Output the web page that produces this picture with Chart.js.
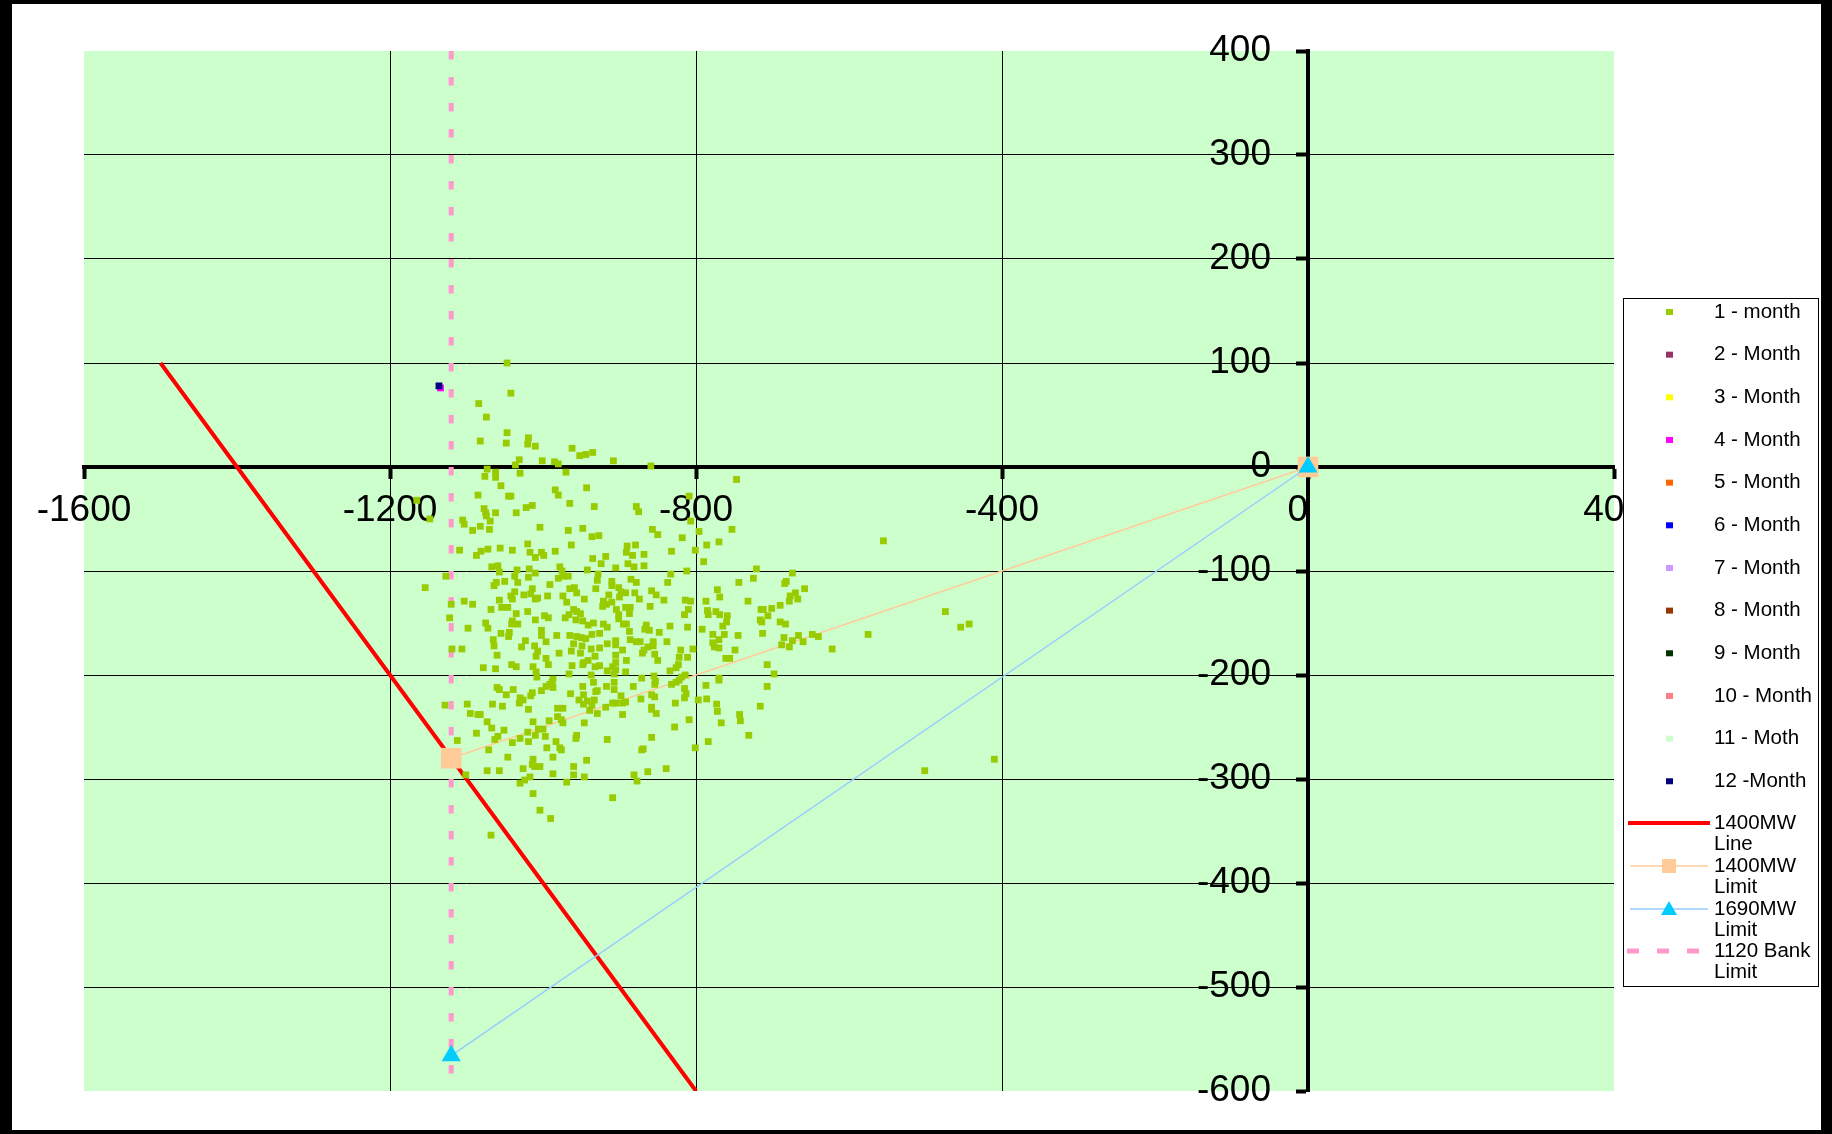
<!DOCTYPE html>
<html>
<head>
<meta charset="utf-8">
<script src="https://cdn.jsdelivr.net/npm/chart.js@4.4.1/dist/chart.umd.min.js"></script>
<style>
html,body{margin:0;padding:0;background:#000;}
canvas{display:block;}
</style>
</head>
<body>
<canvas id="chart" width="1832" height="1134"></canvas>
<script>
// axis ticks
const xTicks = [-1600,-1200,-800,-400,0,400];
const yTicks = [-600,-500,-400,-300,-200,-100,0,100,200,300,400];

// series names / colours (Excel palette)
const monthLabels = ["1 - month","2 - Month","3 - Month","4 - Month","5 - Month","6 - Month",
"7 - Month","8 - Month","9 - Month","10 - Month","11 - Moth","12 -Month"];
const monthColors = ["#99CC00","#993366","#FFFF00","#FF00FF","#FF6600","#0000FF",
"#CC99FF","#993300","#003300","#FF8080","#CCFFCC","#000080"];

// 1 - month readings [x, y]
const month1 = [
[-1047,100],[-1042,71],[-1084,61],[-1074,48],[-1047,33],[-1082,25],[-1048,23],[-1019,28],[-1020,22],[-1010,20],
[-962,18],[-952,11],[-944,12],[-935,14],[-1031,7],[-1036,2],[-1001,6],[-985,5],[-980,3],[-1073,-2],
[-1062,-5],[-1062,-10],[-1076,-9],[-1030,-6],[-970,-5],[-1055,-18],[-1085,-27],[-1045,-28],[-1042,-28],[-984,-22],
[-980,-27],[-943,-20],[-965,-35],[-933,-38],[-1022,-39],[-1014,-37],[-1077,-40],[-1075,-44],[-1062,-44],[-1035,-44],
[-1165,-32],
[-908,6],[-859,1],[-747,-12],[-809,-28],[-878,-38],[-875,-43],
[-1148,-50],[-1105,-51],[-1103,-55],[-1074,-47],[-1069,-52],[-1082,-57],[-1092,-61],[-1070,-60],[-1004,-58],[-967,-61],
[-948,-59],[-936,-67],[-927,-66],[-1020,-74],[-963,-75],[-1109,-80],[-1081,-81],[-1072,-79],[-1056,-78],[-1040,-80],
[-1087,-85],[-1017,-82],[-1002,-82],[-999,-85],[-1010,-87],[-984,-81],[-935,-88],[-918,-86],[-924,-93],
[-1067,-96],[-1059,-95],[-1057,-101],[-1034,-99],[-1037,-105],[-1018,-98],[-1010,-102],[-1019,-106],[-978,-96],[-975,-100],
[-973,-105],[-980,-107],[-967,-105],[-942,-99],[-928,-103],[-1127,-105],[-1154,-116],[-1033,-111],[-1061,-111],[-1050,-110],
[-1064,-114],[-991,-113],[-929,-109],
[-1037,-120],[-1025,-123],[-1016,-122],[-1014,-117],[-1010,-127],[-1007,-126],[-1042,-124],[-1040,-127],[-994,-124],[-974,-124],
[-965,-117],[-959,-116],[-956,-121],[-931,-117],[-969,-130],[-946,-127],[-914,-123],[-921,-129],[-1120,-132],[-1103,-129],
[-1092,-132],[-1057,-128],[-1068,-137],[-1054,-135],[-1046,-135],[-922,-134],[-917,-132],[-960,-137],
[-1020,-139],[-1035,-141],[-956,-139],[-951,-141],[-966,-142],[-998,-143],[-993,-145],[-971,-145],[-1122,-145],[-1010,-147],
[-957,-147],[-948,-148],[-1075,-150],[-1040,-148],[-1033,-151],[-1041,-151],[-934,-150],[-941,-152],[-1098,-155],[-1072,-155],
[-916,-154],[-921,-151],
[-1055,-160],[-1044,-159],[-1045,-163],[-1002,-157],[-1002,-162],[-982,-162],[-965,-162],[-956,-163],[-950,-164],[-944,-165],
[-936,-161],[-926,-160],[-1065,-166],[-1023,-167],[-996,-168],[-916,-170],[-1064,-172],[-1028,-173],[-1011,-172],[-960,-170],
[-949,-172],[-1119,-175],[-1106,-175],[-1007,-177],[-937,-175],[-926,-174],[-979,-179],[-963,-177],[-951,-179],
[-1060,-181],[-1009,-182],[-996,-184],[-932,-182],[-941,-186],[-947,-188],[-948,-190],[-1041,-190],[-1035,-192],[-1013,-192],
[-993,-190],[-962,-191],[-932,-192],[-926,-191],[-916,-196],[-1078,-193],[-1062,-194],[-1009,-197],[-1008,-202],[-987,-204],
[-966,-199],[-937,-200],
[-807,-52],[-796,-62],[-753,-60],[-857,-60],[-850,-65],[-818,-68],[-770,-72],[-786,-75],[-801,-80],[-832,-81],
[-890,-76],[-879,-75],[-891,-82],[-883,-85],[-868,-84],[-790,-91],[-889,-93],[-881,-96],[-868,-95],[-905,-97],
[-812,-100],[-833,-103],[-721,-98],[-725,-107],[-674,-102],[-684,-112],[-682,-110],[-658,-117],[-744,-111],[-837,-111],
[-885,-108],[-878,-111],[-910,-110],[-910,-114],[-901,-116],[-772,-118],[-858,-119],[-898,-120],[-892,-121],[-880,-121],
[-769,-125],[-852,-123],[-900,-125],[-670,-121],[-677,-124],[-667,-127],[-678,-129],[-874,-127],[-842,-128],[-814,-128],
[-807,-129],[-787,-129],[-732,-129],[-690,-133],[-910,-130],[-892,-135],[-886,-135],[-860,-134],[-904,-137],[-810,-137],
[-785,-138],[-774,-139],[-715,-137],[-712,-137],[-701,-136],[-901,-142],[-887,-141],[-815,-142],[-784,-142],[-769,-142],
[-759,-143],[-706,-143],[-901,-146],[-716,-147],[-714,-149],[-690,-149],[-683,-151],[-760,-149],[-895,-151],[-891,-151],
[-834,-153],[-811,-154],[-765,-153],[-865,-152],[-867,-156],[-861,-157],[-887,-158],[-848,-159],[-792,-156],[-763,-161],
[-778,-161],[-745,-162],[-713,-160],[-666,-162],[-685,-164],[-674,-167],[-660,-168],[-770,-166],[-886,-166],[-878,-168],
[-873,-168],[-856,-168],[-838,-168],[-905,-167],[-905,-171],[-688,-171],[-678,-173],[-778,-169],[-776,-173],[-770,-174],
[-856,-172],[-863,-173],[-804,-175],[-749,-176],[-896,-176],[-868,-176],[-820,-176],[-870,-179],[-854,-180],[-905,-181],
[-811,-183],[-822,-183],[-761,-184],[-756,-184],[-850,-186],[-891,-186],[-905,-188],[-823,-190],[-826,-193],[-834,-196],
[-909,-192],[-905,-195],[-892,-197],[-907,-199],[-698,-199],[-707,-190],[-814,-200],[-855,-201],[-871,-203],[-770,-203],
[-819,-202],
[-555,-71],[-474,-139],[-454,-154],[-443,-151],[-575,-161],[-648,-161],[-640,-163],[-622,-175],
[-1060,-212],[-1057,-214],[-1039,-214],[-996,-211],[-991,-209],[-988,-207],[-987,-212],[-1002,-215],[-1014,-217],[-1016,-220],
[-1048,-219],[-1030,-222],[-1026,-224],[-1031,-227],[-948,-211],[-934,-207],[-917,-211],[-964,-218],[-947,-219],[-931,-216],
[-929,-215],[-953,-224],[-942,-225],[-933,-224],[-947,-228],[-936,-229],[-918,-231],[-939,-234],[-929,-237],[-1128,-229],
[-1099,-228],[-1066,-228],[-1053,-230],[-1019,-233],[-981,-232],[-974,-232],[-1095,-237],[-1085,-238],[-1082,-238],[-981,-240],
[-1073,-245],[-1013,-245],[-992,-244],[-976,-243],[-974,-246],[-946,-246],[-1067,-251],[-1051,-253],[-1006,-252],[-1000,-252],
[-1020,-255],[-1087,-256],[-1059,-259],[-1063,-262],[-1010,-258],[-997,-259],[-1030,-261],[-956,-258],[-957,-261],[-916,-262],
[-1112,-263],[-1040,-265],[-1019,-264],[-983,-264],[-995,-270],[-978,-270],[-976,-272],[-1071,-272],[-1046,-279],[-987,-279],
[-1013,-281],[-943,-282],[-1014,-286],[-1011,-288],[-1004,-288],[-1026,-290],[-960,-288],[-1073,-292],[-1057,-292],[-987,-295],
[-960,-296],[-946,-298],[-1101,-296],[-1017,-298],[-1024,-301],[-1030,-304],[-969,-303],[-1013,-314],[-1004,-330],[-990,-338],
[-1068,-354],
[-907,-207],[-907,-214],[-882,-211],[-854,-209],[-853,-206],[-832,-209],[-826,-207],[-822,-205],[-815,-213],[-813,-218],
[-815,-222],[-787,-210],[-770,-205],[-707,-211],[-898,-220],[-909,-227],[-905,-227],[-896,-227],[-892,-226],[-872,-223],
[-858,-219],[-854,-221],[-827,-227],[-797,-224],[-786,-223],[-773,-228],[-772,-235],[-716,-230],[-858,-231],[-858,-233],
[-896,-238],[-852,-237],[-743,-238],[-742,-244],[-767,-246],[-809,-243],[-828,-250],[-731,-258],[-858,-260],[-784,-264],
[-801,-270],[-869,-271],[-871,-272],[-839,-290],[-863,-293],[-881,-296],[-877,-302],[-909,-318],
[-501,-292],[-410,-281]
];
const month4 = [[-1134,76]];
const month12 = [[-1136,78]];
const monthData = [month1,[],[],month4,[],[],[],[],[],[],[],month12];

// limit lines
const line1400X = [-1500,-800];
const line1400Y = [100,-600];
const limit1400X = [-1120,0];
const limit1400Y = [-280,0];
const limit1690X = [-1120,0];
const limit1690Y = [-566,0];
const bankX = [-1120,-1120];
const bankY = [400,-600];

const lineLabels = [["1400MW","Line"],["1400MW","Limit"],["1690MW","Limit"],["1120 Bank","Limit"]];

function pts(xs,ys){ return xs.map((x,i)=>({x:x,y:ys[i]})); }

Chart.defaults.font.family = '"Liberation Sans", Arial, sans-serif';

const datasets = monthLabels.map((name,i)=>({
  label:name,
  data:monthData[i].map(p=>({x:p[0],y:p[1]})),
  pointStyle:"rect",
  pointRadius:4.8,
  pointBackgroundColor:monthColors[i],
  pointBorderWidth:0,
  borderColor:monthColors[i],
  showLine:false,
  order:11-i
}));

datasets.push({
  label:"1400MW Line", data:pts(line1400X,line1400Y), showLine:true,
  borderColor:"#FF0000", borderWidth:4, pointRadius:0, order:14
});
datasets.push({
  label:"1400MW Limit", data:pts(limit1400X,limit1400Y), showLine:true,
  borderColor:"#FFCC99", borderWidth:1.5, pointStyle:"rect", pointRadius:14.6,
  pointBackgroundColor:"#FFCC99", pointBorderWidth:0, order:13
});
datasets.push({
  label:"1690MW Limit", data:pts(limit1690X,limit1690Y), showLine:true,
  borderColor:"#99CCFF", borderWidth:1.5, pointStyle:"triangle", pointRadius:11,
  pointBackgroundColor:"#00CCFF", pointBorderWidth:0, order:12
});
datasets.push({
  label:"1120 Bank Limit", data:pts(bankX,bankY), showLine:true,
  borderColor:"#FF99CC", borderWidth:5, borderDash:[8.5,17.5], pointRadius:0, order:15
});

const edgeX = v => v===xTicks[0] || v===xTicks[xTicks.length-1];
const edgeY = v => v===yTicks[0] || v===yTicks[yTicks.length-1];

// frame + green plot area
const bgPlugin = {
  id:"bg",
  beforeDraw(chart){
    const ctx = chart.ctx, a = chart.chartArea;
    ctx.save();
    ctx.fillStyle="#000";
    ctx.fillRect(0,0,chart.width,chart.height);
    ctx.fillStyle="#fff";
    ctx.fillRect(12,4,1809,1126);
    ctx.fillStyle="#CCFFCC";
    ctx.fillRect(a.left,a.top,a.right-a.left,a.bottom-a.top);
    ctx.restore();
  }
};

// boxed legend on the right, drawn over the "400" label like the original
const legendPlugin = {
  id:"sideLegend",
  afterDraw(chart){
    const ctx = chart.ctx;
    const bx = 1623, by = 298, bw = 195, bh = 688;
    ctx.save();
    ctx.fillStyle="#fff";
    ctx.fillRect(bx,by,bw,bh);
    ctx.strokeStyle="#000";
    ctx.lineWidth=1;
    ctx.strokeRect(bx+0.5,by+0.5,bw,bh);
    ctx.font='20.5px "Liberation Sans", Arial, sans-serif';
    ctx.textBaseline="middle";
    ctx.textAlign="left";
    monthLabels.forEach((name,i)=>{
      const y = 312 + i*42.66;
      ctx.fillStyle=monthColors[i];
      ctx.fillRect(1666,y-3,7,6);
      ctx.fillStyle="#000";
      ctx.fillText(name,1714,y);
    });
    const ly = [823,866,909,951];
    lineLabels.forEach((t,i)=>{
      ctx.fillStyle="#000";
      ctx.fillText(t[0],1714,ly[i]);
      ctx.fillText(t[1],1714,ly[i]+21.5);
    });
    // red line
    ctx.strokeStyle="#FF0000"; ctx.lineWidth=4;
    ctx.beginPath(); ctx.moveTo(1628,ly[0]); ctx.lineTo(1710,ly[0]); ctx.stroke();
    // peach
    ctx.strokeStyle="#FFCC99"; ctx.lineWidth=1.5;
    ctx.beginPath(); ctx.moveTo(1630,ly[1]); ctx.lineTo(1708,ly[1]); ctx.stroke();
    ctx.fillStyle="#FFCC99"; ctx.fillRect(1662,ly[1]-7,14,14);
    // blue
    ctx.strokeStyle="#99CCFF";
    ctx.beginPath(); ctx.moveTo(1630,ly[2]); ctx.lineTo(1708,ly[2]); ctx.stroke();
    ctx.fillStyle="#00CCFF";
    ctx.beginPath(); ctx.moveTo(1669,ly[2]-8); ctx.lineTo(1677,ly[2]+6); ctx.lineTo(1661,ly[2]+6); ctx.closePath(); ctx.fill();
    // pink dashed
    ctx.strokeStyle="#FF99CC"; ctx.lineWidth=5; ctx.setLineDash([12,18]);
    ctx.beginPath(); ctx.moveTo(1627,ly[3]); ctx.lineTo(1700,ly[3]); ctx.stroke();
    ctx.restore();
  }
};

const ctx = document.getElementById("chart");

const chart = new Chart(ctx,{
  type:"scatter",
  data:{datasets:datasets},
  options:{
    responsive:false,
    devicePixelRatio:1,
    animation:false,
    layout:{padding:{left:84,right:218,top:51,bottom:43}},
    plugins:{legend:{display:false},tooltip:{enabled:false}},
    scales:{
      x:{
        type:"linear", min:-1600, max:400,
        position:{y:0},
        afterBuildTicks:s=>{ s.ticks = xTicks.map(v=>({value:v})); },
        grid:{
          color:c=>(c.tick && edgeX(c.tick.value)) ? "rgba(0,0,0,0)" : "#000",
          lineWidth:1, tickColor:"#000", tickWidth:4, tickLength:10
        },
        border:{color:"#000",width:4},
        ticks:{
          color:"#000", font:{size:37}, padding:12, maxRotation:0, autoSkip:false,
          callback:v=> v===0 ? "0  " : String(v)
        }
      },
      y:{
        type:"linear", min:-600, max:400,
        position:{x:0},
        afterBuildTicks:s=>{ s.ticks = yTicks.map(v=>({value:v})); },
        grid:{
          color:c=>(c.tick && edgeY(c.tick.value)) ? "rgba(0,0,0,0)" : "#000",
          lineWidth:1, tickColor:"#000", tickWidth:4, tickLength:10
        },
        border:{color:"#000",width:4},
        ticks:{
          color:"#000", font:{size:37}, autoSkip:false,
          callback:v=> String(v) + "\u2002\u2002"
        }
      }
    }
  },
  plugins:[bgPlugin,legendPlugin]
});
</script>
</body>
</html>
